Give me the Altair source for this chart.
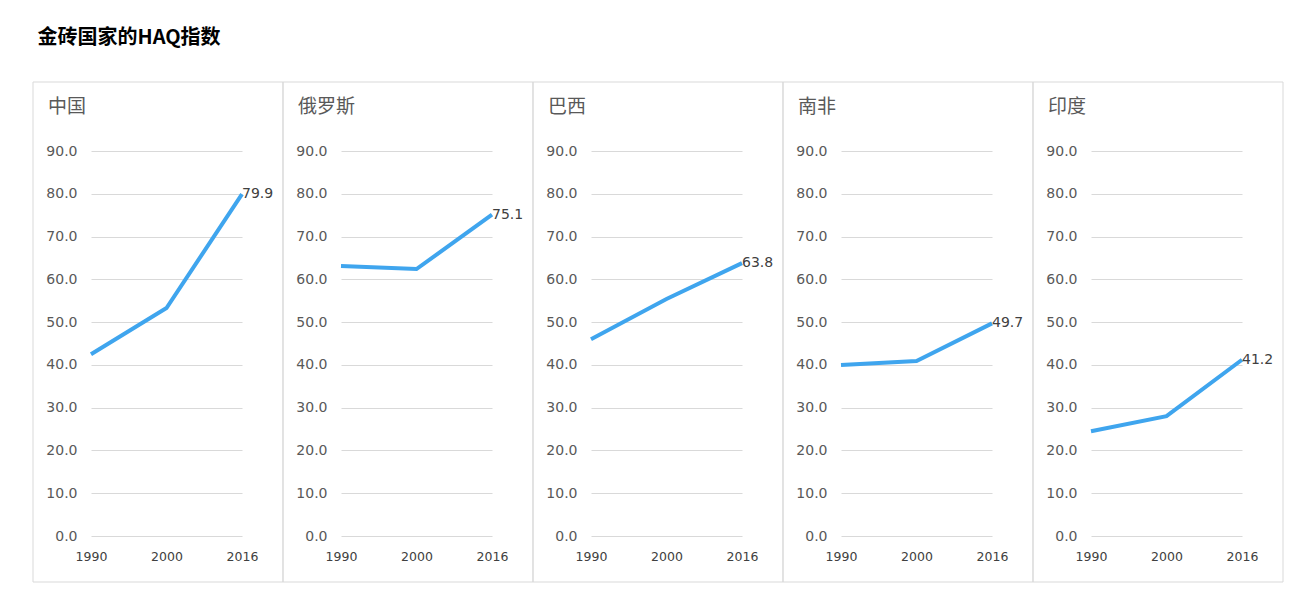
import pandas as pd
import altair as alt

# HAQ index of the BRICS countries
countries = ['中国', '俄罗斯', '巴西', '南非', '印度']
years = ['1990', '2000', '2016']
values = {
    '中国': [42.5, 53.3, 79.9],
    '俄罗斯': [63.1, 62.4, 75.1],
    '巴西': [46.0, 55.4, 63.8],
    '南非': [40.0, 40.9, 49.7],
    '印度': [24.5, 28.0, 41.2],
}

LINE_COLOR = '#3fa5ee'
GREY = '#595959'
BORDER = '#d9d9d9'


def panel(country):
    df = pd.DataFrame({'年份': years, 'HAQ': values[country]})
    base = alt.Chart(df)

    # panel border (whole cell, axes included)
    frame = alt.Chart(pd.DataFrame({'a': [0]})).mark_rect(
        fillOpacity=0, stroke=BORDER, strokeWidth=1
    ).encode(x=alt.value(-58), x2=alt.value(192), y=alt.value(-69), y2=alt.value(431))

    line = base.mark_line(color=LINE_COLOR, strokeWidth=4, strokeCap='butt').encode(
        x=alt.X('年份:O', title=None, sort=years,
                scale=alt.Scale(type='point', padding=0),
                axis=alt.Axis(labelAngle=0, labelFontSize=12.5, labelColor='#404040',
                              labelFont='DejaVu Sans', domain=False, ticks=False,
                              labelPadding=14)),
        y=alt.Y('HAQ:Q', title=None,
                scale=alt.Scale(domain=[0, 90], nice=False),
                axis=alt.Axis(values=list(range(0, 91, 10)), format='.1f',
                              labelFontSize=14, labelColor=GREY,
                              labelFont='DejaVu Sans', domain=False, ticks=False,
                              labelPadding=14, gridColor=BORDER, gridWidth=1)),
    )

    label = base.transform_filter(alt.datum['年份'] == '2016').mark_text(
        align='left', baseline='middle', dx=0, fontSize=14, color='#404040',
        font='DejaVu Sans'
    ).encode(x=alt.X('年份:O', sort=years), y='HAQ:Q', text=alt.Text('HAQ:Q', format='.1f'))

    return alt.layer(frame, line, label).properties(
        width=151, height=385,
        title=alt.TitleParams(country, anchor='start', frame='group', dx=-43,
                              offset=-35, fontSize=19, fontWeight='normal',
                              color=GREY, font='Noto Sans CJK SC'),
    )


chart = alt.hconcat(*[panel(c) for c in countries], spacing=99, bounds='flush').properties(
    title=alt.TitleParams('金砖国家的HAQ指数', anchor='start', fontSize=20,
                          fontWeight='bold', color='#000000', font='Noto Sans CJK SC',
                          offset=34, dx=5),
    padding={'left': 24, 'top': 19, 'right': 5, 'bottom': 5},
).configure_view(stroke=None)

chart.save("out.html", embed_options={"renderer": "svg", "actions": False})
